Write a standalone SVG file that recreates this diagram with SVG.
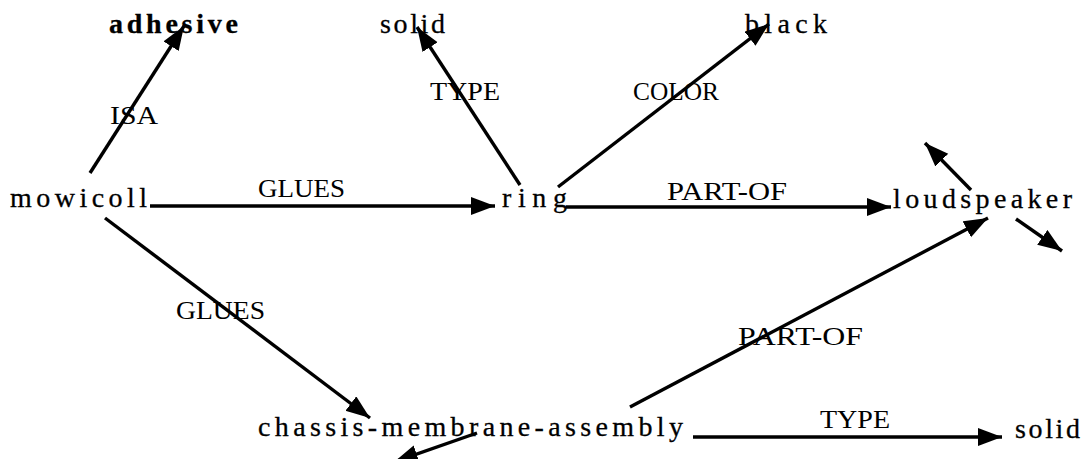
<svg xmlns="http://www.w3.org/2000/svg" width="1088" height="459" viewBox="0 0 1088 459">
<style>
.n{font-family:"Liberation Serif","Times New Roman",serif;font-size:28px;fill:#000;stroke:#000;stroke-width:0.3}
.b{font-weight:bold}
.l{font-family:"Liberation Serif","Times New Roman",serif;font-size:26px;fill:#000}
.e{stroke:#000;stroke-width:3.4;fill:none;marker-end:url(#ah)}
</style>
<defs>
<marker id="ah" markerUnits="userSpaceOnUse" markerWidth="26" markerHeight="20" refX="24" refY="9" orient="auto">
<path d="M0,0 L24,9 L0,18 z" fill="#000"/>
</marker>
</defs>
<rect width="1088" height="459" fill="#fff"/>
<g id="connectors">
<g id="e-isa"><line class="e" x1="90" y1="173" x2="184" y2="26"/><text class="l" x="110" y="124" textLength="48" lengthAdjust="spacingAndGlyphs">ISA</text></g>
<g id="e-glues1"><line class="e" x1="150" y1="206" x2="495" y2="206"/><text class="l" x="258" y="197" textLength="87" lengthAdjust="spacingAndGlyphs">GLUES</text></g>
<g id="e-type1"><line class="e" x1="520" y1="185" x2="417" y2="27"/><text class="l" x="430" y="100" textLength="70" lengthAdjust="spacingAndGlyphs">TYPE</text></g>
<g id="e-color"><line class="e" x1="558" y1="187" x2="769" y2="24"/><text class="l" x="633" y="100" textLength="86" lengthAdjust="spacingAndGlyphs">COLOR</text></g>
<g id="e-partof1"><line class="e" x1="566" y1="207" x2="891" y2="207"/><text class="l" x="667" y="200" textLength="120" lengthAdjust="spacingAndGlyphs">PART-OF</text></g>
<g id="e-ls-up"><line class="e" x1="971" y1="190" x2="925" y2="143"/></g>
<g id="e-ls-down"><line class="e" x1="1016" y1="219" x2="1062" y2="251"/></g>
<g id="e-glues2"><line class="e" x1="105" y1="218" x2="370" y2="418"/><text class="l" x="176" y="319" textLength="89" lengthAdjust="spacingAndGlyphs">GLUES</text></g>
<g id="e-partof2"><line class="e" x1="630" y1="407" x2="988" y2="218"/><text class="l" x="738" y="345" textLength="125" lengthAdjust="spacingAndGlyphs">PART-OF</text></g>
<g id="e-type2"><line class="e" x1="693" y1="437" x2="1002" y2="437"/><text class="l" x="820" y="428" textLength="70" lengthAdjust="spacingAndGlyphs">TYPE</text></g>
<g id="e-cma-down"><line class="e" x1="477" y1="433" x2="394" y2="462"/></g>
</g>
<g id="n-adhesive"><text class="n b" x="109" y="33" textLength="129" lengthAdjust="spacing">adhesive</text></g>
<g id="n-solid1"><text class="n" x="380" y="33" textLength="65" lengthAdjust="spacing">solid</text></g>
<g id="n-black"><text class="n" x="745" y="33" textLength="82" lengthAdjust="spacing">black</text></g>
<g id="n-mowicoll"><text class="n" x="10" y="207" textLength="137" lengthAdjust="spacing">mowicoll</text></g>
<g id="n-ring"><text class="n" x="502" y="207" textLength="65" lengthAdjust="spacing">ring</text></g>
<g id="n-loudspeaker"><text class="n" x="893" y="208" textLength="179" lengthAdjust="spacing">loudspeaker</text></g>
<g id="n-cma"><text class="n" x="258" y="436" textLength="425" lengthAdjust="spacing">chassis-membrane-assembly</text></g>
<g id="n-solid2"><text class="n" x="1015" y="438" textLength="65" lengthAdjust="spacing">solid</text></g>
</svg>
